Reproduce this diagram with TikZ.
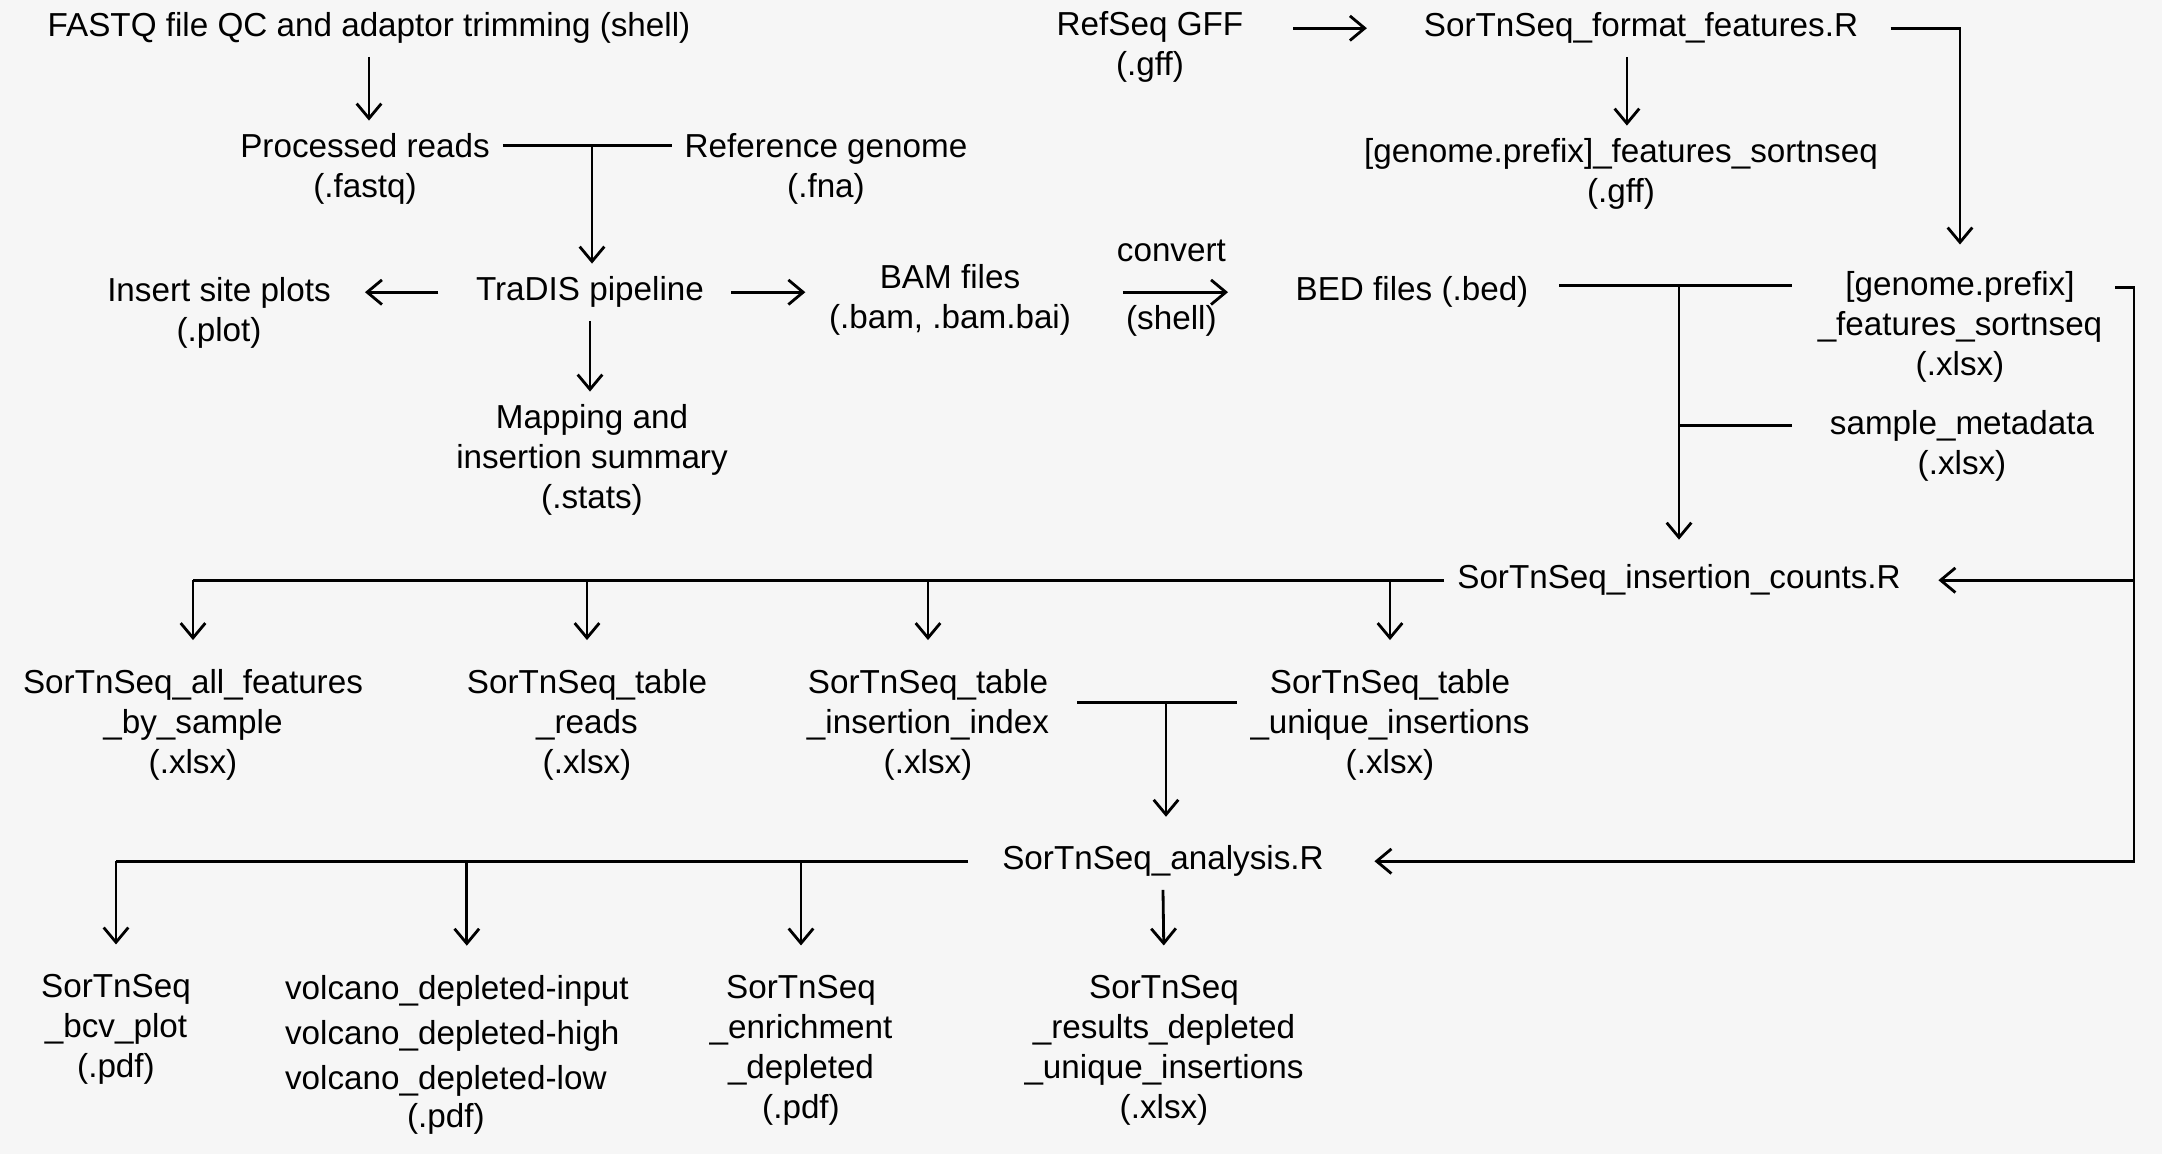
\documentclass[tikz,border=0pt]{standalone}
\usepackage{fontspec}
\setmainfont{Liberation Sans}
\usetikzlibrary{arrows.meta}

\definecolor{bgcol}{RGB}{246,246,246}
\tikzset{
  lbl/.style={font=\fontsize{9.45}{11.38}\selectfont, align=center},
  arr/.style={-{Straight Barb[length=4.2pt,width=7pt]}},
}

\begin{document}
\begin{tikzpicture}[x=0.01cm,y=-0.01cm,line width=0.8pt]
        \fill[bgcol] (0,0) rectangle (2162,1154);
        % preprocessing
        \draw (369,28) node[lbl] (fastq) {FASTQ file QC and adaptor trimming (shell)};
        \draw (365,169) node[lbl] (reads) {Processed reads\\(.fastq)};
        \draw (826,169) node[lbl] (refgen) {Reference genome\\(.fna)};
        \draw (590,292) node[lbl] (tradis) {TraDIS pipeline};
        \draw (219,313) node[lbl] (plots) {Insert site plots\\(.plot)};
        \draw (950,300) node[lbl] (bam) {BAM files\\(.bam, .bam.bai)};
        \draw (592,460) node[lbl] (mapping) {Mapping and\\insertion summary\\(.stats)};
        \draw (1412,292) node[lbl] (bed) {BED files (.bed)};
        % features
        \draw (1150,47) node[lbl] (refseq) {RefSeq GFF\\(.gff)};
        \draw (1641,28) node[lbl] (formatR) {SorTnSeq\_format\_features.R};
        \draw (1621,174) node[lbl] (featgff) {[genome.prefix]\_features\_sortnseq\\(.gff)};
        \draw (1960,327) node[lbl] (featx) {[genome.prefix]\\\_features\_sortnseq\\(.xlsx)};
        \draw (1962,446) node[lbl] (meta) {sample\_metadata\\(.xlsx)};
        % counts
        \draw (1679,580) node[lbl] (countsR) {SorTnSeq\_insertion\_counts.R};
        \draw (193,725) node[lbl] (allfeat) {SorTnSeq\_all\_features\\\_by\_sample\\(.xlsx)};
        \draw (587,725) node[lbl] (tabreads) {SorTnSeq\_table\\\_reads\\(.xlsx)};
        \draw (928,725) node[lbl] (tabindex) {SorTnSeq\_table\\\_insertion\_index\\(.xlsx)};
        \draw (1390,725) node[lbl] (tabuniq) {SorTnSeq\_table\\\_unique\_insertions\\(.xlsx)};
        % analysis
        \draw (1163,861) node[lbl] (analysisR) {SorTnSeq\_analysis.R};
        \draw (116,1029) node[lbl] (bcv) {SorTnSeq\\\_bcv\_plot\\(.pdf)};
        \draw (272,962) node[lbl,align=left,anchor=north west,font=\fontsize{9.45}{12.8}\selectfont] (volcano)
          {volcano\_depleted-input\\volcano\_depleted-high\\volcano\_depleted-low\\[-1.9pt]\hspace*{34.7pt}(.pdf)};
        \draw (801,1050) node[lbl] (enrich) {SorTnSeq\\\_enrichment\\\_depleted\\(.pdf)};
        \draw (1164,1050) node[lbl] (results) {SorTnSeq\\\_results\_depleted\\\_unique\_insertions\\(.xlsx)};

        \coordinate (jreads) at (592,145);
        \coordinate (jbed) at (1679,285);
        \coordinate (jmeta) at (1679,425);
        \coordinate (rbus) at (2134,287);
        \coordinate (jtab) at (1166,702);

        \draw[arr] (fastq.south) -- (fastq.south |- reads.north);
        \draw (reads.east |- jreads) -- (refgen.west |- jreads);
        \draw[arr] (jreads) -- (jreads |- tradis.north);
        \draw[arr,shorten <=7pt,shorten >=6pt] (tradis.west) -- (tradis.west -| plots.east);
        \draw[arr,shorten <=4pt,shorten >=3pt] (tradis.east) -- (tradis.east -| bam.west);
        \draw[arr] (tradis.south) -- (tradis.south |- mapping.north);
        \draw[arr,shorten <=11pt,shorten >=15.5pt] (bam.east |- bed.west) -- (bed.west)
          node[lbl,above=5pt,pos=.44] (convlbl) {convert}
          node[lbl,below,pos=.44] (shelllbl) {(shell)};

        \draw[arr,shorten <=10.5pt,shorten >=12.5pt] (refseq.east |- formatR.west) -- (formatR.west);
        \draw[arr] ([xshift=-4pt]formatR.south) -- ([xshift=-4pt]formatR.south |- featgff.north);
        \draw[arr,shorten <=5.5pt,shorten >=4pt] (formatR.east) -| (featx.north);
        \draw[shorten <=5pt,shorten >=3.7pt] (bed.east |- jbed) -- (featx.west |- jbed);
        \draw[shorten <=7pt] (meta.west |- jmeta) -- (jmeta);
        \draw[arr,shorten >=3.4pt] (jbed) -- (countsR.north);
        \draw[arr,shorten >=10.7pt] (featx.east |- rbus) -- (rbus) |- (analysisR.east);
        \draw[arr,shorten >=7pt] (rbus |- countsR.east) -- (countsR.east);

        \draw (countsR.west) -- (countsR.west -| allfeat);
        \foreach \n in {allfeat,tabreads,tabindex,tabuniq}
          \draw[arr,shorten >=4.7pt] (countsR.west -| \n) -- (\n.north);
        \draw[shorten <=4.3pt] (tabindex.east |- jtab) -- (tabuniq.west |- jtab);
        \draw[arr,shorten >=4.5pt] (jtab) -- (jtab |- analysisR.north);

        \draw ([xshift=-6pt]analysisR.west) -- (analysisR.west -| bcv);
        \foreach \n/\dx in {bcv/0pt,volcano/2.8pt,enrich/0pt}
          \draw[arr,shorten >=4.7pt] ([xshift=\dx]analysisR.west -| \n) -- ([xshift=\dx]\n.north);
        \draw[arr,shorten >=4.7pt] (analysisR.south) -- (results.north);
\end{tikzpicture}
\end{document}
